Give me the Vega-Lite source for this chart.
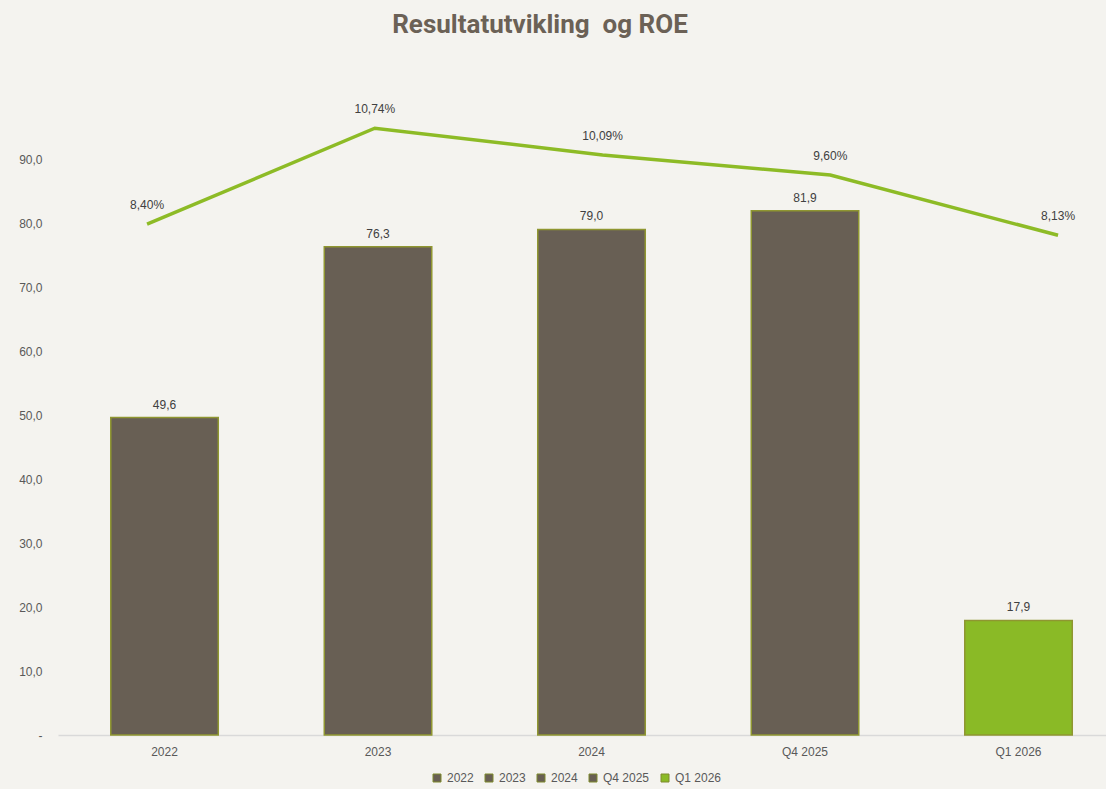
{
  "$schema": "https://vega.github.io/schema/vega-lite/v6.json",
  "width": 1048,
  "height": 640,
  "autosize": {"type": "none"},
  "padding": {"left": 58, "top": 95, "right": 0, "bottom": 54},
  "background": "#f4f3ef",
  "config": {
    "view": {"stroke": null},
    "font": "Liberation Sans",
    "locale": {"number": {"decimal": ",", "thousands": " ", "grouping": [3], "currency": ["", " kr"]}}
  },
  "title": {
    "text": "Resultatutvikling\u00a0 og ROE",
    "fontSize": 26,
    "font": "Roboto",
    "fontWeight": "bold",
    "color": "#6b6156",
    "anchor": "middle",
    "offset": 57,
    "dx": -42
  },
  "data": {
    "values": [
      {"period": "2022", "result": 49.6, "roe": 0.0840},
      {"period": "2023", "result": 76.3, "roe": 0.1074},
      {"period": "2024", "result": 79.0, "roe": 0.1009},
      {"period": "Q4 2025", "result": 81.9, "roe": 0.0960},
      {"period": "Q1 2026", "result": 17.9, "roe": 0.0813}
    ]
  },
  "layer": [
    {
      "encoding": {
        "x": {
          "field": "period",
          "type": "ordinal",
          "sort": ["2022", "2023", "2024", "Q4 2025", "Q1 2026"],
          "scale": {"paddingInner": 0.4965, "paddingOuter": 0.2026, "align": 0.61},
          "axis": {
            "title": null,
            "labelAngle": 0,
            "ticks": false,
            "domainColor": "#d9d9d9",
            "domainWidth": 1.5,
            "labelColor": "#595959",
            "labelFontSize": 12,
            "labelPadding": 11
          }
        },
        "y": {
          "field": "result",
          "type": "quantitative",
          "scale": {"domain": [0, 100]},
          "axis": {
            "title": null,
            "values": [0, 10, 20, 30, 40, 50, 60, 70, 80, 90],
            "grid": false,
            "domain": false,
            "ticks": false,
            "labelPadding": 16,
            "format": ".1f",
            "labelExpr": "datum.value === 0 ? '-' : datum.label",
            "labelColor": "#595959",
            "labelFontSize": 12
          }
        }
      },
      "layer": [
        {
          "mark": {"type": "bar", "stroke": "#8f9631", "strokeWidth": 1.5},
          "encoding": {
            "color": {
              "field": "period",
              "type": "nominal",
              "sort": ["2022", "2023", "2024", "Q4 2025", "Q1 2026"],
              "scale": {
                "domain": ["2022", "2023", "2024", "Q4 2025", "Q1 2026"],
                "range": ["#685f54", "#685f54", "#685f54", "#685f54", "#8aba26"]
              },
              "legend": {
                "orient": "none",
                "direction": "horizontal",
                "legendX": 373,
                "legendY": 677,
                "title": null,
                "symbolType": "square",
                "symbolSize": 64,
                "symbolStrokeColor": "#7f8a2c",
                "symbolStrokeWidth": 1,
                "labelColor": "#595959",
                "labelFontSize": 12,
                "labelOffset": 4,
                "columnPadding": 9
              }
            }
          }
        },
        {
          "mark": {"type": "text", "baseline": "bottom", "dy": -6, "fontSize": 12, "color": "#404040"},
          "encoding": {"text": {"field": "result", "type": "quantitative", "format": ".1f"}}
        }
      ]
    },
    {
      "encoding": {
        "x": {
          "field": "period",
          "type": "ordinal",
          "sort": ["2022", "2023", "2024", "Q4 2025", "Q1 2026"],
          "scale": {"type": "point", "padding": 0.3008, "align": 0.65},
          "axis": null
        },
        "y": {
          "field": "roe",
          "type": "quantitative",
          "scale": {"domain": [-0.0405, 0.1155]},
          "axis": null
        }
      },
      "layer": [
        {"mark": {"type": "line", "color": "#8dbb26", "strokeWidth": 3.5}, "encoding": {}},
        {
          "mark": {"type": "text", "baseline": "middle", "dy": -19, "fontSize": 12, "color": "#404040"},
          "encoding": {"text": {"field": "roe", "type": "quantitative", "format": ".2%"}}
        }
      ]
    }
  ],
  "resolve": {"scale": {"x": "independent", "y": "independent", "color": "independent"}}
}
